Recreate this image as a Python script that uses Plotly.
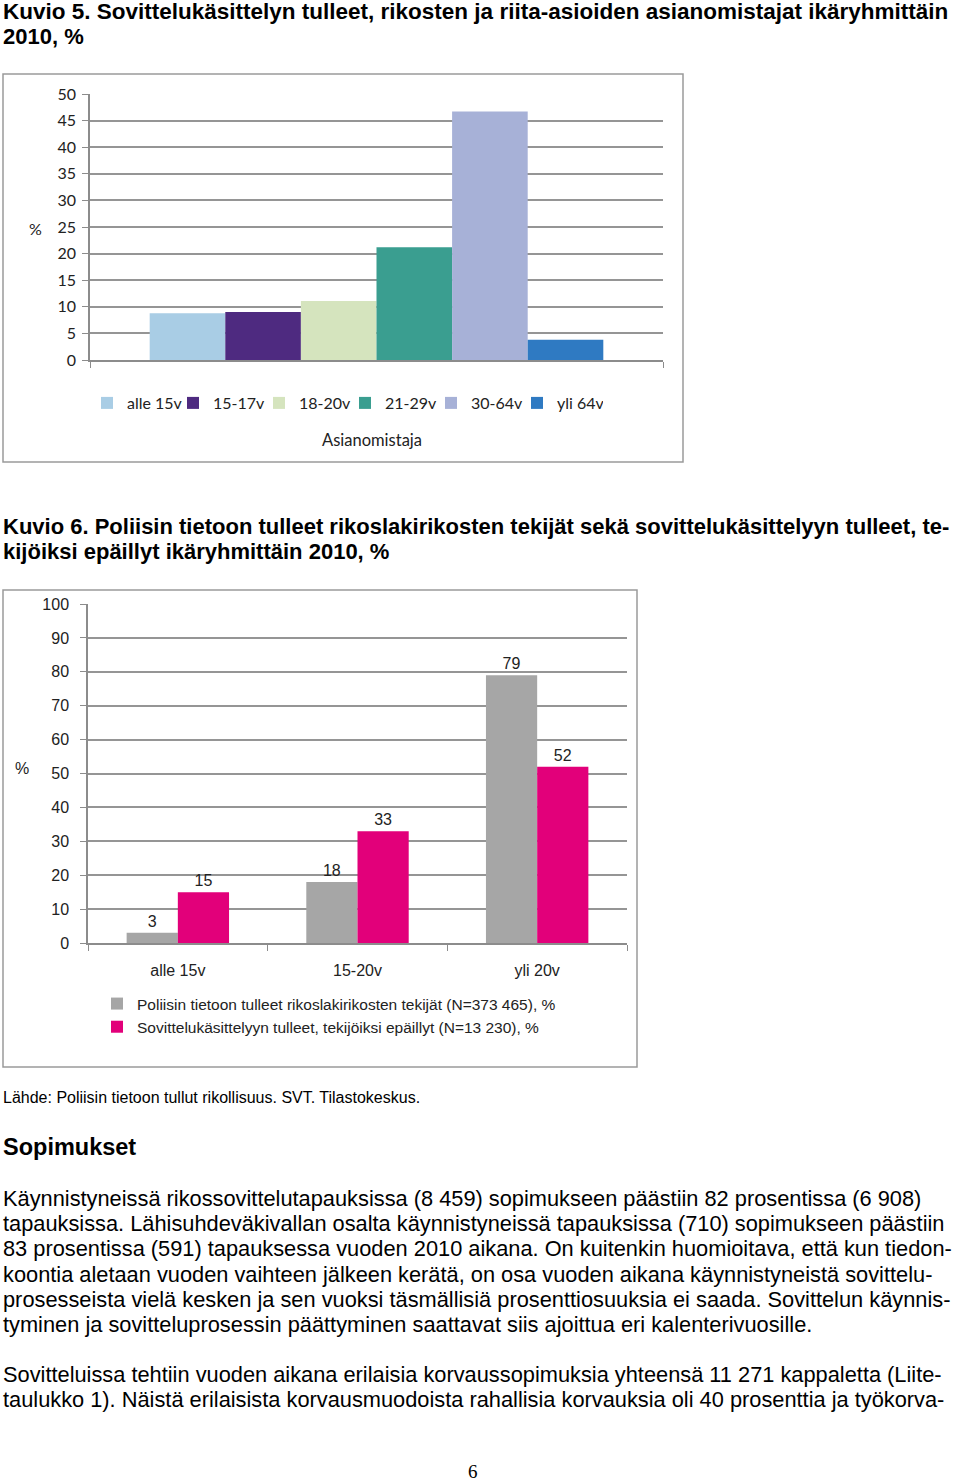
import plotly.graph_objects as go

W, H = 960, 1482

def px(x):
    return x / W

def py(y):
    return 1 - y / H

# ---------------- data ----------------
c1_series = ["alle 15v", "15-17v", "18-20v", "21-29v", "30-64v", "yli 64v"]
c1_values = [8.8, 9.0, 11.1, 21.2, 46.7, 3.8]
c1_colors = ["#A9CDE5", "#4E2A80", "#D5E4BE", "#3A9E90", "#A7B1D7", "#2F7AC2"]
c1_category = "Asianomistaja"

c2_categories = ["alle 15v", "15-20v", "yli 20v"]
c2_police = [3, 18, 79]
c2_mediation = [15, 33, 52]
c2_names = [
    "Poliisin tietoon tulleet rikoslakirikosten tekijät (N=373 465), %",
    "Sovittelukäsittelyyn tulleet, tekijöiksi epäillyt (N=13 230), %",
]
c2_colors = ["#A6A6A6", "#E2007A"]

fig = go.Figure()

for name, val, col in zip(c1_series, c1_values, c1_colors):
    fig.add_trace(go.Bar(
        x=[0], y=[val], name=name, marker=dict(color=col, line=dict(width=0)),
        xaxis="x", yaxis="y", legend="legend", hoverinfo="skip",
    ))

for name, vals, col in zip(c2_names, [c2_police, c2_mediation], c2_colors):
    fig.add_trace(go.Bar(
        x=c2_categories, y=vals, name=name, marker=dict(color=col, line=dict(width=0)),
        text=[str(v) for v in vals], textposition="outside", constraintext="none",
        textfont=dict(family="Liberation Sans, Arial", size=16, color="#222"),
        cliponaxis=False, xaxis="x2", yaxis="y2", legend="legend2", hoverinfo="skip",
    ))

grid_col = "#959595"
axis_col = "#8c8c8c"
f1 = dict(family="Lato, Calibri, sans-serif", size=16, color="#222")
f2 = dict(family="Liberation Sans, Arial", size=16, color="#222")

fig.update_layout(
    width=W, height=H,
    margin=dict(l=0, r=0, t=0, b=0, pad=0, autoexpand=False),
    paper_bgcolor="white", plot_bgcolor="white",
    barmode="group", bargap=0.43, bargroupgap=0,
    showlegend=True,
    xaxis=dict(domain=[px(90), px(663)], anchor="y", range=[-0.36, 0.36],
               tickvals=[-0.36, 0.36], ticktext=["", ""], ticks="outside", ticklen=6,
               tickcolor=axis_col, showline=True, linecolor=axis_col, linewidth=1.5,
               showgrid=False, zeroline=False, fixedrange=True, automargin=False),
    yaxis=dict(domain=[py(360), py(94)], anchor="x", range=[0, 50], dtick=5,
               ticks="outside", ticklen=6, tickcolor=axis_col, showline=True,
               linecolor=axis_col, linewidth=1.5, gridcolor=grid_col, gridwidth=1.7,
               zeroline=False, tickfont=f1, ticklabelstandoff=3, fixedrange=True,
               automargin=False),
    xaxis2=dict(domain=[px(88), px(627)], anchor="y2", tickson="boundaries",
                ticks="outside", ticklen=6, tickcolor=axis_col, showline=True,
                linecolor=axis_col, linewidth=1.5, showgrid=False, zeroline=False,
                tickfont=f2, ticklabelstandoff=12, fixedrange=True, automargin=False),
    yaxis2=dict(domain=[py(943), py(604)], anchor="x2", range=[0, 100], dtick=10,
                ticks="outside", ticklen=6, tickcolor=axis_col, showline=True,
                linecolor=axis_col, linewidth=1.5, gridcolor=grid_col, gridwidth=1.7,
                zeroline=False, tickfont=f2, ticklabelstandoff=8, fixedrange=True,
                automargin=False),
    legend=dict(orientation="h", x=px(87), y=py(386), xanchor="left", yanchor="top",
                font=f1, itemwidth=30, entrywidth=41, entrywidthmode="pixels",
                bgcolor="rgba(0,0,0,0)", traceorder="normal"),
    legend2=dict(orientation="v", x=px(97), y=py(987), xanchor="left", yanchor="top",
                 font=dict(family="Liberation Sans, Arial", size=15.5, color="#222"),
                 itemwidth=30, tracegroupgap=0, bgcolor="rgba(0,0,0,0)",
                 traceorder="normal"),
)

for (x0, y0, x1, y1) in [(3, 74, 683, 462), (3, 590, 637, 1067)]:
    fig.add_shape(type="rect", xref="paper", yref="paper",
                  x0=px(x0), x1=px(x1), y0=py(y1), y1=py(y0),
                  line=dict(color="#9a9a9a", width=1.5), fillcolor="rgba(0,0,0,0)",
                  layer="below")

def txt(x, y, s, size, family="Liberation Sans, Arial", bold=False, anchor="left", color="#000"):
    fig.add_annotation(x=px(x), y=py(y), xref="paper", yref="paper", text=s,
                       showarrow=False, xanchor=anchor, yanchor="middle",
                       font=dict(family=family, size=size, color=color,
                                 weight="bold" if bold else "normal"))

sans = "Liberation Sans, Arial"

txt(1, 12, "Kuvio 5. Sovittelukäsittelyn tulleet, rikosten ja riita-asioiden asianomistajat ikäryhmittäin", 22.5, sans, True)
txt(1, 36, "2010, %", 22, sans, True)
txt(1, 526, "Kuvio 6. Poliisin tietoon tulleet rikoslakirikosten tekijät sekä sovittelukäsittelyyn tulleet, te-", 22, sans, True)
txt(1, 551, "kijöiksi epäillyt ikäryhmittäin 2010, %", 22, sans, True)

txt(35, 229, "%", 16, "Lato, Calibri, sans-serif", anchor="center", color="#222")
txt(372, 440, c1_category, 16.5, "Lato, Calibri, sans-serif", anchor="center", color="#222")
txt(22, 768, "%", 16, anchor="center", color="#222")

txt(1, 1097, "Lähde: Poliisin tietoon tullut rikollisuus. SVT. Tilastokeskus.", 16)
txt(1, 1147, "Sopimukset", 23.5, bold=True)

body = [
    (1198, "Käynnistyneissä rikossovittelutapauksissa (8 459) sopimukseen päästiin 82 prosentissa (6 908)"),
    (1223, "tapauksissa. Lähisuhdeväkivallan osalta käynnistyneissä tapauksissa (710) sopimukseen päästiin"),
    (1248, "83 prosentissa (591) tapauksessa vuoden 2010 aikana. On kuitenkin huomioitava, että kun tiedon-"),
    (1274, "koontia aletaan vuoden vaihteen jälkeen kerätä, on osa vuoden aikana käynnistyneistä sovittelu-"),
    (1299, "prosesseista vielä kesken ja sen vuoksi täsmällisiä prosenttiosuuksia ei saada. Sovittelun käynnis-"),
    (1324, "tyminen ja sovitteluprosessin päättyminen saattavat siis ajoittua eri kalenterivuosille."),
    (1374, "Sovitteluissa tehtiin vuoden aikana erilaisia korvaussopimuksia yhteensä 11 271 kappaletta (Liite-"),
    (1399, "taulukko 1). Näistä erilaisista korvausmuodoista rahallisia korvauksia oli 40 prosenttia ja työkorva-"),
]
for y, s in body:
    txt(1, y, s, 21.8)

txt(473, 1471, "6", 19, "Liberation Serif, Times New Roman, serif", anchor="center")

fig.write_html(
    "out.html", config={"displayModeBar": False},
    post_script="document.body.style.margin='0';document.body.style.padding='0';",
)
